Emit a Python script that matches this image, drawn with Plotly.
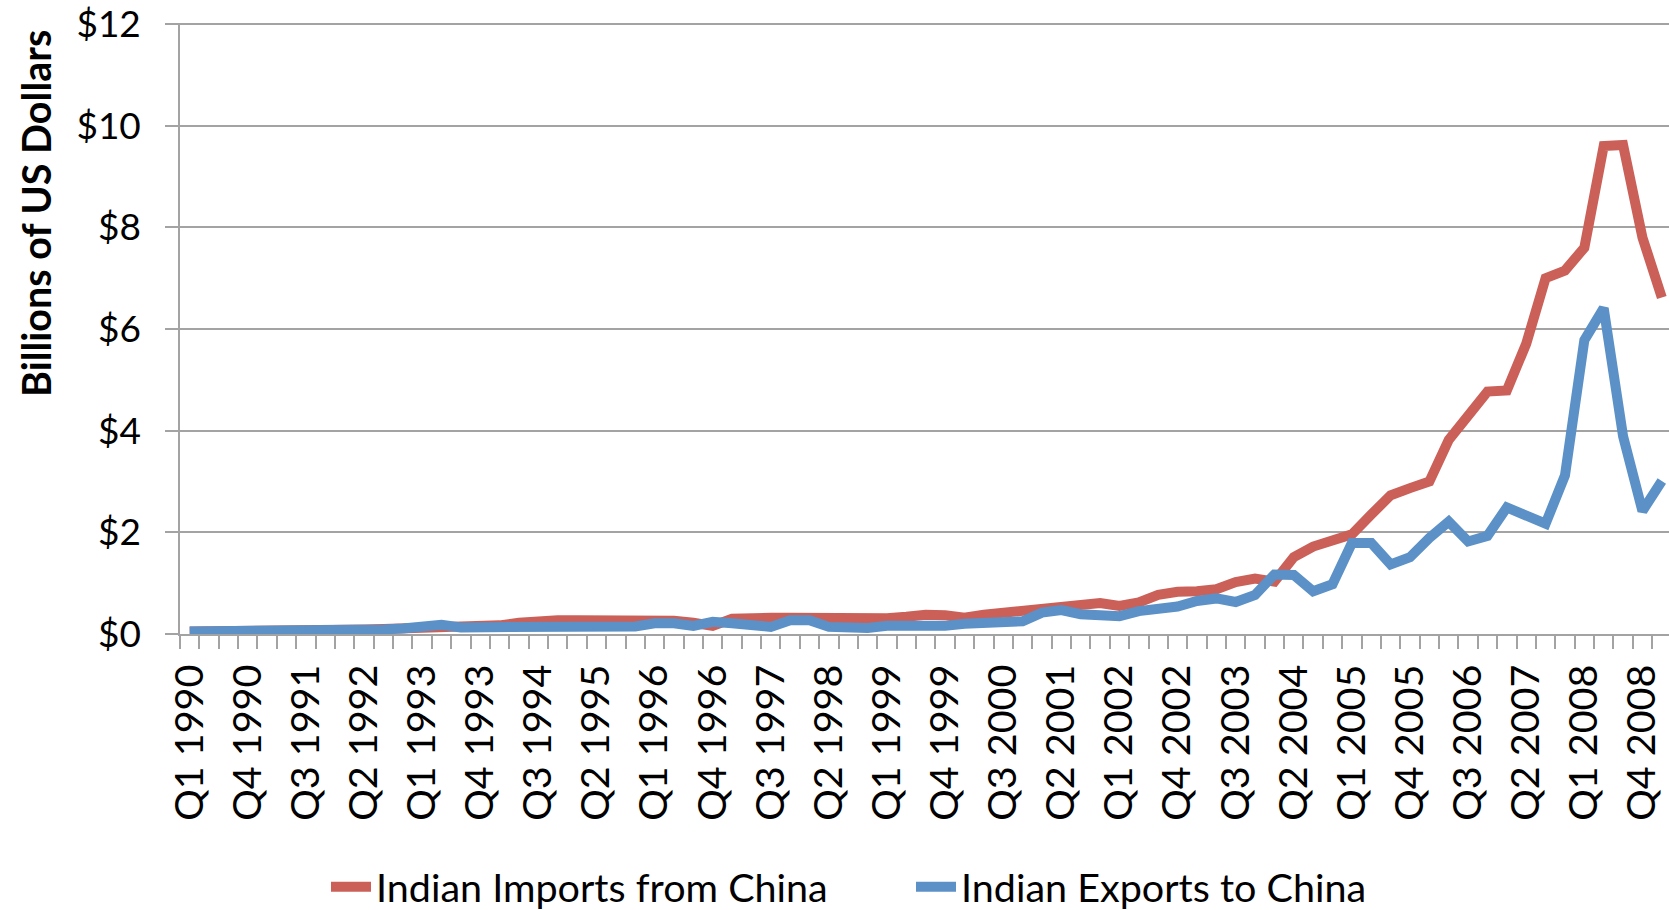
import plotly.graph_objects as go

# Quarterly categories Q1 1990 .. Q1 2009
years = list(range(1990, 2009))
quarters = [f"Q{q} {y}" for y in years for q in (1, 2, 3, 4)] + ["Q1 2009"]

# Billions of US dollars
imports_from_china = [
    0.05, 0.05, 0.05, 0.06, 0.06, 0.06, 0.07, 0.07, 0.08, 0.09,
    0.10, 0.11, 0.12, 0.13, 0.14, 0.15, 0.17, 0.22, 0.26, 0.27,
    0.27, 0.27, 0.28, 0.28, 0.25, 0.26, 0.22, 0.16, 0.30, 0.29,
    0.32, 0.32, 0.32, 0.31, 0.29, 0.32, 0.31, 0.34, 0.38, 0.37,
    0.32, 0.38, 0.42, 0.49, 0.52, 0.54, 0.59, 0.61, 0.55, 0.62,
    0.77, 0.83, 0.84, 0.88, 1.02, 1.09, 1.03, 1.51, 1.72, 1.86,
    1.96, 2.35, 2.73, 2.87, 3.00, 3.82, 4.30, 4.77, 4.79, 5.71,
    7.00, 7.15, 7.60, 9.60, 9.62, 7.80, 6.62,
]
exports_to_china = [
    0.05, 0.05, 0.05, 0.05, 0.05, 0.05, 0.05, 0.05, 0.05, 0.07,
    0.09, 0.11, 0.14, 0.18, 0.13, 0.13, 0.13, 0.16, 0.12, 0.12,
    0.16, 0.14, 0.13, 0.15, 0.21, 0.21, 0.16, 0.24, 0.21, 0.16,
    0.14, 0.27, 0.27, 0.14, 0.11, 0.12, 0.16, 0.15, 0.16, 0.16,
    0.20, 0.23, 0.23, 0.25, 0.42, 0.47, 0.39, 0.39, 0.35, 0.45,
    0.49, 0.54, 0.65, 0.70, 0.63, 0.77, 1.17, 1.16, 0.84, 0.98,
    1.79, 1.79, 1.37, 1.51, 1.89, 2.21, 1.82, 1.93, 2.49, 2.35,
    2.17, 3.12, 5.78, 6.41, 3.89, 2.42, 3.01,
]

y_ticks = [0, 2, 4, 6, 8, 10, 12]
y_ticktext = ["$0", "$2", "$4", "$6", "$8", "$10", "$12"]

x_idx = list(range(len(quarters)))
label_idx = x_idx[::3]
label_text = [quarters[i] for i in label_idx]

RED = "#CB6058"
BLUE = "#5B91C7"
GRID = "#A3A3A3"
FONT = "Lato"

fig = go.Figure()
fig.add_trace(go.Scatter(
    x=x_idx, y=imports_from_china, mode="lines", name="Indian Imports from China",
    line=dict(color=RED, width=10), text=quarters, hovertemplate="%{text}: $%{y}B<extra></extra>",
))
fig.add_trace(go.Scatter(
    x=x_idx, y=exports_to_china, mode="lines", name="Indian Exports to China",
    line=dict(color=BLUE, width=10), text=quarters, hovertemplate="%{text}: $%{y}B<extra></extra>",
))

W, H = 1669, 910
L, R, T, B = 180, 0, 23, 276
plot_w = W - L - R
plot_h = H - T - B
cat_px = 19.37
y_top = 12.02

fig.update_layout(
    width=W, height=H,
    margin=dict(l=L, r=R, t=T, b=B, autoexpand=False),
    paper_bgcolor="white", plot_bgcolor="white",
    font=dict(family=FONT, size=37, color="black"),
    showlegend=True,
    legend=dict(
        orientation="h", xref="container", yref="container",
        x=326 / W, xanchor="left", y=23 / H, yanchor="middle",
        font=dict(family=FONT, size=39.5, color="black"),
        itemwidth=40, entrywidth=530, tracegroupgap=0,
    ),
)
fig.update_xaxes(
    range=[-0.5, -0.5 + plot_w / cat_px], automargin=False,
    tickmode="array", tickvals=label_idx, ticktext=label_text,
    tickangle=-90, ticks="", showgrid=False, zeroline=False,
    showline=True, linecolor=GRID, linewidth=1.5,
    tickfont=dict(family=FONT, size=39.5, color="black"),
    ticklabelstandoff=13, ticklabeloverflow="allow",
    minor=dict(ticks="outside", ticklen=13, tickcolor=GRID, tickwidth=1.5,
               tick0=-0.5, dtick=1, showgrid=False),
)
fig.update_yaxes(
    range=[0, y_top], automargin=False,
    tickmode="array", tickvals=y_ticks, ticktext=y_ticktext,
    ticks="outside", ticklen=13, tickcolor=GRID, tickwidth=1.5,
    showgrid=True, gridcolor=GRID, gridwidth=1.5, zeroline=False,
    showline=True, linecolor=GRID, linewidth=1.5,
    tickfont=dict(family=FONT, size=37, color="black"),
    ticklabelstandoff=17, ticklabeloverflow="allow",
)
fig.add_annotation(
    text="<b>Billions of US Dollars</b>", textangle=-90,
    xref="paper", yref="paper",
    x=(35 - L) / plot_w, y=1 - (214 - T) / plot_h,
    xanchor="center", yanchor="middle", showarrow=False,
    font=dict(family=FONT, size=39.5, color="black"),
)

fig.write_html(
    "out.html",
    config={"displayModeBar": False},
    post_script="document.body.style.margin='0';",
)
